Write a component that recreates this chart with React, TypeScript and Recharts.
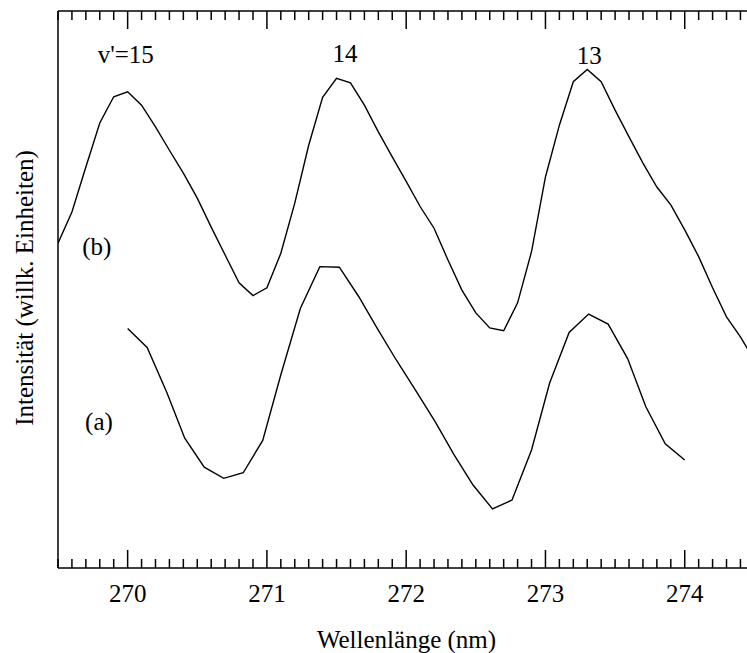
import React from "react";
import { LineChart, Line, XAxis, YAxis, ReferenceDot } from "recharts";

// Kurve (b): 0,1-nm-Raster
const wavelengthsB = [
  269.5, 269.6, 269.7, 269.8, 269.9, 270.0, 270.1, 270.2, 270.3, 270.4,
  270.5, 270.6, 270.7, 270.8, 270.9, 271.0, 271.1, 271.2, 271.3, 271.4,
  271.5, 271.6, 271.7, 271.8, 271.9, 272.0, 272.1, 272.2, 272.3, 272.4,
  272.5, 272.6, 272.7, 272.8, 272.9, 273.0, 273.1, 273.2, 273.3, 273.4,
  273.5, 273.6, 273.7, 273.8, 273.9, 274.0, 274.1, 274.2, 274.3, 274.4,
  274.5,
];
const intensityB = [
  5.83, 6.39, 7.2, 7.99, 8.46, 8.55, 8.31, 7.92, 7.5, 7.09,
  6.64, 6.12, 5.62, 5.12, 4.89, 5.03, 5.65, 6.55, 7.59, 8.45,
  8.79, 8.71, 8.31, 7.83, 7.38, 6.94, 6.49, 6.1, 5.53, 4.99,
  4.58, 4.31, 4.26, 4.76, 5.68, 7.02, 7.95, 8.73, 8.95, 8.73,
  8.22, 7.74, 7.27, 6.84, 6.52, 6.07, 5.59, 5.03, 4.51, 4.15,
  3.73,
];

// Kurve (a)
const wavelengthsA = [
  270.0, 270.14, 270.28, 270.41, 270.55, 270.69, 270.83, 270.97, 271.1, 271.24,
  271.38, 271.52, 271.66, 271.79, 271.93, 272.07, 272.21, 272.34, 272.48, 272.62,
  272.76, 272.9, 273.03, 273.17, 273.31, 273.45, 273.59, 273.72, 273.86, 274.0,
];
const intensityA = [
  4.3, 3.96, 3.16, 2.33, 1.81, 1.61, 1.71, 2.29, 3.47, 4.66,
  5.41, 5.4, 4.87, 4.31, 3.73, 3.18, 2.62, 2.05, 1.49, 1.06,
  1.22, 2.12, 3.32, 4.23, 4.56, 4.38, 3.76, 2.9, 2.23, 1.94,
];

const majorTicks = [270, 271, 272, 273, 274];
const allTicks = Array.from({ length: 56 }, (_, i) => Math.round((269.5 + i * 0.1) * 10) / 10);

const dataA = wavelengthsA.map((x, i) => ({ x, y: intensityA[i] }));
const dataB = wavelengthsB.map((x, i) => ({ x, y: intensityB[i] }));

const FONT = "'Liberation Serif', 'Times New Roman', serif";
const isMajor = (v: number) => majorTicks.some((m) => Math.abs(m - v) < 1e-6);

function BottomTick(props: any) {
  const { x, y, payload } = props;
  const major = isMajor(payload.value);
  return (
    <g>
      <line x1={x} x2={x} y1={y} y2={y - (major ? 18 : 9)} stroke="#000" strokeWidth={1.5} />
      {major && (
        <text x={x} y={y + 34} textAnchor="middle" fontSize={25} fill="#000" fontFamily={FONT}>
          {payload.value}
        </text>
      )}
    </g>
  );
}

function TopTick(props: any) {
  const { x, y, payload } = props;
  const major = isMajor(payload.value);
  return <line x1={x} x2={x} y1={y} y2={y + (major ? 18 : 9)} stroke="#000" strokeWidth={1.5} />;
}

const annotations = [
  { text: "v'=15", x: 269.987, y: 9.23 },
  { text: "14", x: 271.56, y: 9.24 },
  { text: "13", x: 273.315, y: 9.21 },
  { text: "(b)", x: 269.778, y: 5.77 },
  { text: "(a)", x: 269.794, y: 2.63 },
];

export default function App() {
  return (
    <div style={{ position: "absolute", left: 0, top: 0, width: 747, height: 653, overflow: "hidden", background: "#fff" }}>
      <LineChart
        width={830}
        height={653}
        margin={{ top: 0, right: 6, bottom: 0, left: 0 }}
        style={{ fontFamily: FONT }}
      >
        <XAxis
          xAxisId="bottom"
          type="number"
          dataKey="x"
          domain={[269.5, 275]}
          allowDataOverflow
          ticks={allTicks}
          interval={0}
          height={85}
          tickSize={0}
          tickMargin={0}
          tickLine={false}
          axisLine={{ stroke: "#000", strokeWidth: 1.5 }}
          tick={<BottomTick />}
          label={{
            content: () => (
              <text x={406.5} y={648} textAnchor="middle" fontSize={25} fill="#000" fontFamily={FONT}>
                Wellenlänge (nm)
              </text>
            ),
          }}
        />
        <XAxis
          xAxisId="top"
          orientation="top"
          type="number"
          dataKey="x"
          domain={[269.5, 275]}
          allowDataOverflow
          ticks={allTicks}
          interval={0}
          height={11}
          tickSize={0}
          tickMargin={0}
          tickLine={false}
          axisLine={{ stroke: "#000", strokeWidth: 1.5 }}
          tick={<TopTick />}
        />
        <YAxis
          type="number"
          domain={[0, 10]}
          width={58}
          tick={false}
          tickLine={false}
          axisLine={{ stroke: "#000", strokeWidth: 1.5 }}
          label={{
            content: () => (
              <text
                x={33}
                y={288}
                transform="rotate(-90, 33, 288)"
                textAnchor="middle"
                fontSize={25}
                fill="#000"
                fontFamily={FONT}
              >
                Intensität (willk. Einheiten)
              </text>
            ),
          }}
        />
        <Line
          xAxisId="bottom"
          data={dataB}
          dataKey="y"
          type="linear"
          stroke="#000"
          strokeWidth={1.4}
          dot={false}
          isAnimationActive={false}
        />
        <Line
          xAxisId="bottom"
          data={dataA}
          dataKey="y"
          type="linear"
          stroke="#000"
          strokeWidth={1.4}
          dot={false}
          isAnimationActive={false}
        />
        {annotations.map((a) => (
          <ReferenceDot
            key={a.text}
            xAxisId="bottom"
            x={a.x}
            y={a.y}
            r={0}
            fill="none"
            stroke="none"
            label={{ value: a.text, position: "center", fontSize: 25, fill: "#000", fontFamily: FONT }}
          />
        ))}
      </LineChart>
    </div>
  );
}
